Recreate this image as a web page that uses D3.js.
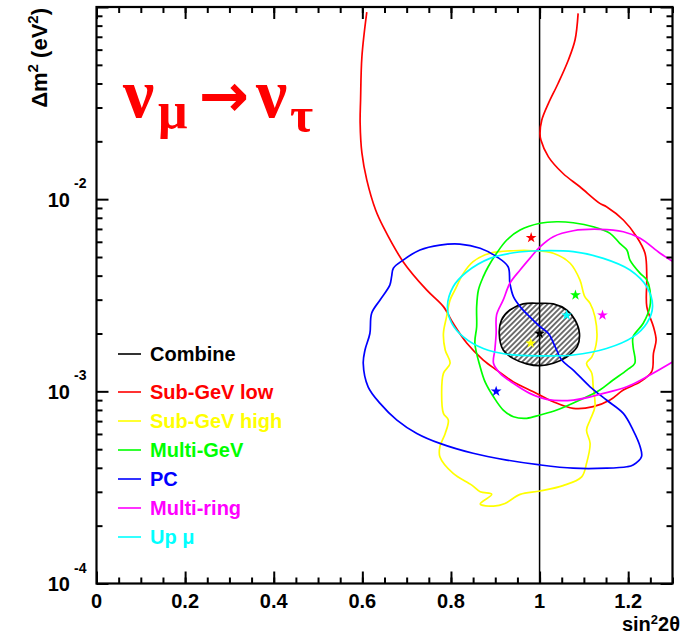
<!DOCTYPE html>
<html>
<head>
<meta charset="utf-8">
<script src="https://cdn.jsdelivr.net/npm/d3@7"></script>
<style>
  body { margin: 0; background: #fff; }
  text { font-family: "Liberation Sans", Arial, sans-serif; font-weight: bold; }
</style>
</head>
<body>
<div id="chart"></div>
<script>
var width = 682,
    height = 635;

// allowed region contours, [sin^2 2theta, dm^2 in units of 1e-3 eV^2]
var combine = [[1.001,2.87],[1.031,2.85],[1.061,2.65],[1.080,2.35],[1.090,2.00],[1.085,1.71],[1.061,1.51],[1.031,1.40],[1.001,1.36],[0.971,1.39],[0.941,1.48],[0.918,1.64],[0.909,2.00],[0.914,2.35],[0.933,2.65],[0.963,2.85]];

var subGeVLow = [[0.610,94],[0.599,55.1],[0.596,32.8],[0.595,24.9],[0.599,17.4],[0.610,12.6],[0.630,8.78],[0.647,7.19],[0.692,4.73],[0.745,3.37],[0.783,2.76],[0.805,2.26],[0.836,1.78],[0.873,1.455],[0.903,1.29],[0.941,1.12],[0.986,0.995],[1.031,0.883],[1.076,0.816],[1.121,0.832],[1.159,0.901],[1.189,1.016],[1.227,1.12],[1.253,1.265],[1.257,1.577],[1.263,1.85],[1.257,2.17],[1.242,2.76],[1.242,3.95],[1.238,5.23],[1.219,6.38],[1.189,7.79],[1.151,9.13],[1.136,9.51],[1.091,11.6],[1.053,13.6],[1.020,16.6],[1.003,20.3],[1.001,22.0],[1.005,25.8],[1.020,31.5],[1.042,40.1],[1.065,53.0],[1.080,67.3],[1.087,92.7]];

var subGeVHigh = [[0.888,5.23],[0.941,5.39],[0.986,5.39],[1.031,5.23],[1.069,4.64],[1.091,3.80],[1.102,3.11],[1.114,2.87],[1.125,2.44],[1.129,1.85],[1.118,1.51],[1.106,1.40],[1.118,1.24],[1.121,1.056],[1.125,0.832],[1.114,0.709],[1.106,0.629],[1.114,0.536],[1.106,0.422],[1.095,0.359],[1.053,0.323],[1.001,0.303],[0.956,0.291],[0.922,0.261],[0.896,0.253],[0.866,0.259],[0.892,0.291],[0.866,0.300],[0.847,0.325],[0.805,0.374],[0.775,0.457],[0.775,0.515],[0.787,0.604],[0.794,0.709],[0.783,0.768],[0.779,0.976],[0.783,1.24],[0.798,1.40],[0.787,1.64],[0.783,2.00],[0.790,2.44],[0.798,2.99],[0.809,3.37],[0.828,4.11],[0.850,4.73]];

var multiGeV = [[0.903,5.23],[0.926,6.13],[0.956,6.91],[1.001,7.49],[1.039,7.63],[1.076,7.54],[1.121,7.19],[1.159,6.64],[1.181,5.89],[1.197,5.44],[1.204,4.82],[1.227,4.11],[1.242,3.80],[1.249,3.37],[1.249,2.76],[1.234,2.26],[1.211,1.92],[1.211,1.71],[1.215,1.40],[1.197,1.29],[1.166,1.145],[1.136,1.016],[1.091,0.901],[1.039,0.799],[1.001,0.753],[0.971,0.724],[0.941,0.738],[0.918,0.799],[0.896,0.937],[0.877,1.12],[0.866,1.34],[0.854,1.78],[0.858,2.17],[0.858,2.76],[0.862,3.37],[0.873,3.95],[0.884,4.45]];

var pc = [[0.670,4.37],[0.692,4.82],[0.730,5.44],[0.775,5.77],[0.820,5.84],[0.866,5.55],[0.903,5.02],[0.929,4.45],[0.933,3.65],[0.941,3.11],[0.956,2.76],[0.978,2.44],[1.001,2.17],[1.020,2.00],[1.035,1.71],[1.050,1.455],[1.076,1.29],[1.114,1.056],[1.151,0.901],[1.189,0.768],[1.211,0.629],[1.227,0.515],[1.230,0.457],[1.211,0.414],[1.197,0.405],[1.151,0.398],[1.076,0.398],[1.001,0.414],[0.926,0.439],[0.850,0.476],[0.775,0.536],[0.723,0.604],[0.678,0.709],[0.640,0.866],[0.613,1.056],[0.602,1.40],[0.606,1.64],[0.617,2.00],[0.621,2.55],[0.640,2.99],[0.662,3.57],[0.666,3.95]];

var multiRing = [[1.300,4.75],[1.272,5.23],[1.227,6.26],[1.189,6.77],[1.136,6.97],[1.076,6.85],[1.031,6.38],[1.001,5.65],[0.978,4.92],[0.956,4.28],[0.933,3.65],[0.918,2.99],[0.903,2.50],[0.902,2.00],[0.899,1.64],[0.896,1.40],[0.911,1.24],[0.941,1.10],[0.978,0.976],[1.016,0.909],[1.076,0.901],[1.144,0.976],[1.197,1.056],[1.249,1.215],[1.300,1.42]];

var upMu = [[0.792,2.76],[0.805,3.50],[0.836,4.19],[0.888,4.92],[0.941,5.26],[1.001,5.39],[1.076,5.33],[1.144,4.92],[1.204,4.28],[1.242,3.50],[1.255,2.76],[1.242,2.26],[1.211,1.92],[1.151,1.67],[1.076,1.545],[1.001,1.53],[0.926,1.56],[0.873,1.67],[0.828,1.92],[0.802,2.26]];

// best-fit points, same order as the legend
var sampleNames = ["Combine", "Sub-GeV low", "Sub-GeV high", "Multi-GeV", "PC", "Multi-ring", "Up \u03bc"];
var sampleColors = ["#000000", "#ff0000", "#ffff00", "#00ff00", "#0000ff", "#ff00ff", "#00ffff"];
var bestSin = [1.00, 0.981, 0.980, 1.081, 0.902, 1.142, 1.061];
var bestDm = [2.0, 6.30, 1.78, 3.17, 1.0, 2.49, 2.49];

var xMajor = [0, 0.2, 0.4, 0.6, 0.8, 1, 1.2];
var xMinor = d3.range(0, 27).map(function(i) { return i * 0.05; });
var yMajor = [1e-4, 1e-3, 1e-2, 1e-1];
var yExp = ["-4", "-3", "-2", "-1"];

var dmUnit = 1e-3;

var x = d3.scaleLinear().domain([0, 1.3]).range([96.5, 672.5]);
var y = d3.scaleLog().domain([1e-4, 1e-1]).range([583.5, 7]);

var yMinor = [];
[1e-4, 1e-3, 1e-2].forEach(function(d) {
  for (var k = 2; k <= 9; k++) yMinor.push(d * k);
});

var svg = d3.select("#chart")
  .append("svg")
  .attr("width", width)
  .attr("height", height);

var defs = svg.append("defs");
defs.append("clipPath").attr("id", "frame")
  .append("rect")
  .attr("x", x(0)).attr("y", y(1e-1))
  .attr("width", x(1.3) - x(0)).attr("height", y(1e-4) - y(1e-1));

var hatch = defs.append("pattern")
  .attr("id", "hatch")
  .attr("patternUnits", "userSpaceOnUse")
  .attr("width", 3.8).attr("height", 3.8)
  .attr("patternTransform", "rotate(45)");
hatch.append("line")
  .attr("x1", 1.9).attr("y1", 0).attr("x2", 1.9).attr("y2", 3.8)
  .attr("stroke", "#000").attr("stroke-width", 1.1);

var plot = svg.append("g").attr("clip-path", "url(#frame)");

function lineGen(closed) {
  return d3.line()
    .x(function(d) { return x(d[0]); })
    .y(function(d) { return y(d[1] * dmUnit); })
    .curve(closed ? d3.curveCatmullRomClosed : d3.curveCatmullRom);
}

// combined region, hatched
plot.append("path")
  .datum(combine)
  .attr("d", lineGen(true))
  .attr("fill", "url(#hatch)")
  .attr("stroke", "#000")
  .attr("stroke-width", 1.7);

// maximal mixing line
plot.append("line")
  .attr("x1", x(1)).attr("x2", x(1))
  .attr("y1", y(1e-4)).attr("y2", y(1e-1))
  .attr("stroke", "#000")
  .attr("stroke-width", 1.5);

var contours = [
  {data: subGeVLow, color: sampleColors[1], closed: false},
  {data: subGeVHigh, color: sampleColors[2], closed: true},
  {data: multiGeV, color: sampleColors[3], closed: true},
  {data: pc, color: sampleColors[4], closed: true},
  {data: multiRing, color: sampleColors[5], closed: false},
  {data: upMu, color: sampleColors[6], closed: true}
];

contours.forEach(function(c) {
  plot.append("path")
    .datum(c.data)
    .attr("d", lineGen(c.closed))
    .attr("fill", "none")
    .attr("stroke", c.color)
    .attr("stroke-width", 1.7);
});

// best-fit stars
var star = d3.symbol().type(d3.symbolStar).size(36);
plot.selectAll(".best")
  .data(bestSin)
  .enter()
  .append("path")
  .attr("class", "best")
  .attr("d", star)
  .attr("transform", function(d, i) {
    return "translate(" + x(d) + "," + y(bestDm[i] * dmUnit) + ")";
  })
  .attr("fill", function(d, i) { return sampleColors[i]; });

// axes: ticks inside, mirrored on top and right
function drawTicks(axis, size, tr) {
  svg.append("g")
    .attr("transform", tr)
    .call(axis.tickSize(size).tickFormat(""))
    .call(function(g) {
      g.select(".domain").remove();
      g.selectAll(".tick line").attr("stroke", "#000").attr("stroke-width", 2);
    });
}

drawTicks(d3.axisBottom(x).tickValues(xMajor), -12, "translate(0," + y(1e-4) + ")");
drawTicks(d3.axisBottom(x).tickValues(xMinor), -6, "translate(0," + y(1e-4) + ")");
drawTicks(d3.axisTop(x).tickValues(xMajor), -12, "translate(0," + y(1e-1) + ")");
drawTicks(d3.axisTop(x).tickValues(xMinor), -6, "translate(0," + y(1e-1) + ")");
drawTicks(d3.axisLeft(y).tickValues(yMajor), -12, "translate(" + x(0) + ",0)");
drawTicks(d3.axisLeft(y).tickValues(yMinor), -6, "translate(" + x(0) + ",0)");
drawTicks(d3.axisRight(y).tickValues(yMajor), -12, "translate(" + x(1.3) + ",0)");
drawTicks(d3.axisRight(y).tickValues(yMinor), -6, "translate(" + x(1.3) + ",0)");

svg.append("rect")
  .attr("x", x(0)).attr("y", y(1e-1))
  .attr("width", x(1.3) - x(0)).attr("height", y(1e-4) - y(1e-1))
  .attr("fill", "none")
  .attr("stroke", "#000")
  .attr("stroke-width", 2.2);

// tick labels
svg.selectAll(".xlab")
  .data(xMajor)
  .enter()
  .append("text")
  .attr("class", "xlab")
  .attr("x", function(d) { return x(d); })
  .attr("y", 608)
  .attr("text-anchor", "middle")
  .attr("font-size", "20px")
  .text(function(d) { return d; });

var ylab = svg.selectAll(".ylab")
  .data(yMajor.slice(0, 3))
  .enter()
  .append("g")
  .attr("class", "ylab");
ylab.append("text")
  .attr("x", 70)
  .attr("y", function(d) { return y(d) + 7.5; })
  .attr("text-anchor", "end")
  .attr("font-size", "20px")
  .text("10");
ylab.append("text")
  .attr("x", 74)
  .attr("y", function(d) { return y(d) - 11; })
  .attr("font-size", "14px")
  .text(function(d, i) { return yExp[i]; });

// axis titles
var xt = svg.append("text")
  .attr("x", 680).attr("y", 631)
  .attr("text-anchor", "end")
  .attr("font-size", "20px");
xt.append("tspan").text("sin");
xt.append("tspan").attr("font-size", "13px").attr("dy", -7).text("2");
xt.append("tspan").attr("dy", 7).text("2\u03b8");

var yt = svg.append("text")
  .attr("transform", "translate(47,8) rotate(-90)")
  .attr("text-anchor", "end")
  .attr("font-size", "22px");
yt.append("tspan").text("\u0394m");
yt.append("tspan").attr("font-size", "15px").attr("dy", -9).text("2");
yt.append("tspan").attr("dy", 9).text(" (eV");
yt.append("tspan").attr("font-size", "15px").attr("dy", -9).text("2");
yt.append("tspan").attr("dy", 9).text(")");

// oscillation channel
var title = svg.append("g").attr("fill", "#ff0000");
title.append("text").attr("x", 123).attr("y", 117)
  .style("font-family", "'Liberation Serif', serif").attr("font-size", "70px").text("\u03bd");
title.append("text").attr("x", 158).attr("y", 128)
  .style("font-family", "'Liberation Serif', serif").attr("font-size", "52px").text("\u03bc");
title.append("text").attr("x", 199).attr("y", 116)
  .style("font-family", "'DejaVu Sans', sans-serif").attr("font-size", "60px").text("\u2192");
title.append("text").attr("x", 256).attr("y", 117)
  .style("font-family", "'Liberation Serif', serif").attr("font-size", "70px").text("\u03bd");
title.append("text").attr("x", 290).attr("y", 132)
  .style("font-family", "'Liberation Serif', serif").attr("font-size", "50px").text("\u03c4");

// legend
var legendY = [354, 392, 421, 450, 479, 508, 537];
var legend = svg.selectAll(".legend")
  .data(sampleNames)
  .enter()
  .append("g")
  .attr("class", "legend")
  .attr("transform", function(d, i) { return "translate(118," + legendY[i] + ")"; });

legend.append("line")
  .attr("x1", 0).attr("x2", 23)
  .attr("stroke", function(d, i) { return sampleColors[i]; })
  .attr("stroke-width", 1.6);

legend.append("text")
  .attr("x", 32)
  .attr("y", 7)
  .attr("font-size", "20px")
  .attr("fill", function(d, i) { return sampleColors[i]; })
  .text(function(d) { return d; });
</script>
</body>
</html>
